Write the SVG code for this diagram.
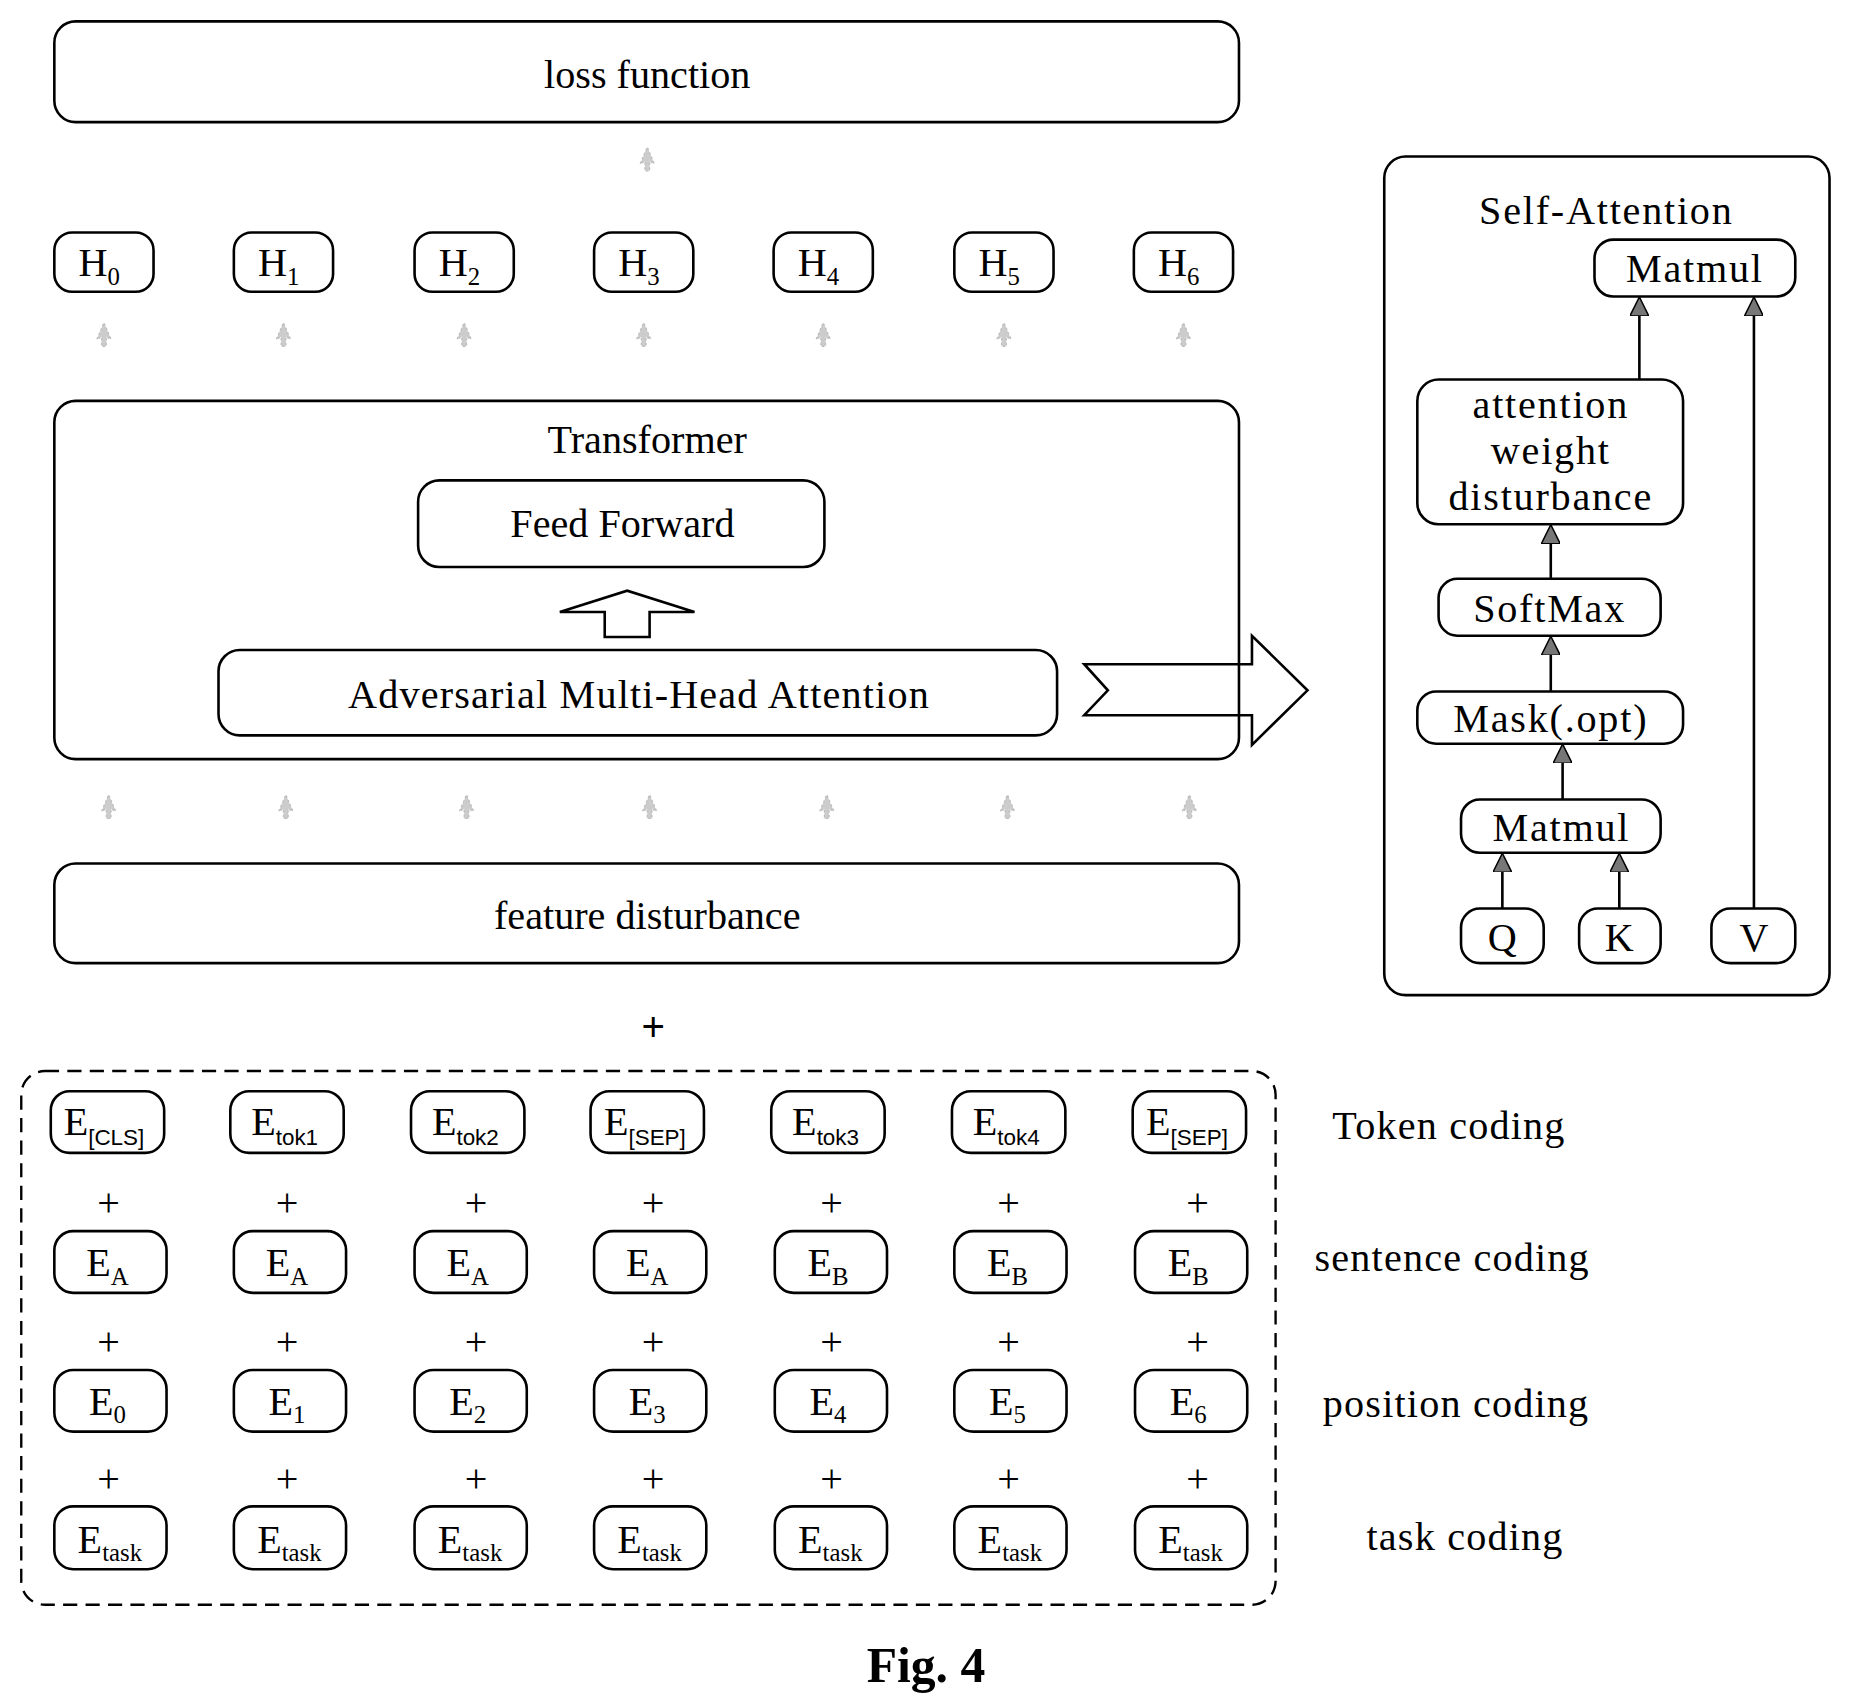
<svg xmlns="http://www.w3.org/2000/svg" width="1852" height="1708" viewBox="0 0 1852 1708">
<defs>
<style>
.b{fill:#fff;stroke:#000;stroke-width:2.2}
.n{fill:none;stroke:#000;stroke-width:2.2}
text{font-family:"Liberation Serif",serif;fill:#000;text-anchor:middle}
.t{font-size:34px}
.w{letter-spacing:1.5px}
.s{font-size:21px}
.ss{font-family:"Liberation Sans",sans-serif;font-size:19px}
.l{font-size:34px;text-anchor:start;letter-spacing:1px}
.p{font-family:"Liberation Sans",sans-serif;font-size:34px}
.d{fill:#ccc;stroke:#bbb;stroke-width:1;stroke-dasharray:2 2}
.c{stroke:#000;stroke-width:2.2;fill:none}
.h{stroke:#000;stroke-width:2.2;fill:#fff}
</style>
<marker id="ah" viewBox="0 0 10 10" refX="9" refY="5" markerWidth="16" markerHeight="16" markerUnits="userSpaceOnUse" orient="auto">
<path d="M0,0 L10,5 L0,10 Z" fill="#777" stroke="#000" stroke-width="0.8"/>
</marker>
<path id="da" d="M-6,8 L0,-6 L6,8 L2,6 L2,14 L-2,14 L-2,6 Z"/>
</defs>
<g transform="scale(1.1811 1.1861)">
<g id="loss"><rect class="b" x="46" y="18" width="1003" height="85" rx="18"/><text class="t" x="548" y="74">loss function</text></g>
<g id="dotted-arrows" class="d">
<use href="#da" x="548" y="130"/>
<use href="#da" x="88" y="278"/><use href="#da" x="240" y="278"/><use href="#da" x="393" y="278"/><use href="#da" x="545" y="278"/><use href="#da" x="697" y="278"/><use href="#da" x="850" y="278"/><use href="#da" x="1002" y="278"/>
<use href="#da" x="92" y="676"/><use href="#da" x="242" y="676"/><use href="#da" x="395" y="676"/><use href="#da" x="550" y="676"/><use href="#da" x="700" y="676"/><use href="#da" x="853" y="676"/><use href="#da" x="1007" y="676"/>
</g>
<g id="H">
<rect class="b" x="46" y="196" width="84" height="50" rx="15"/><text class="t" x="84" y="233">H<tspan class="s" dy="7">0</tspan></text>
<rect class="b" x="198" y="196" width="84" height="50" rx="15"/><text class="t" x="236" y="233">H<tspan class="s" dy="7">1</tspan></text>
<rect class="b" x="351" y="196" width="84" height="50" rx="15"/><text class="t" x="389" y="233">H<tspan class="s" dy="7">2</tspan></text>
<rect class="b" x="503" y="196" width="84" height="50" rx="15"/><text class="t" x="541" y="233">H<tspan class="s" dy="7">3</tspan></text>
<rect class="b" x="655" y="196" width="84" height="50" rx="15"/><text class="t" x="693" y="233">H<tspan class="s" dy="7">4</tspan></text>
<rect class="b" x="808" y="196" width="84" height="50" rx="15"/><text class="t" x="846" y="233">H<tspan class="s" dy="7">5</tspan></text>
<rect class="b" x="960" y="196" width="84" height="50" rx="15"/><text class="t" x="998" y="233">H<tspan class="s" dy="7">6</tspan></text>
</g>
<g id="transformer"><rect class="b" x="46" y="338" width="1003" height="302" rx="18"/><text class="t" x="548" y="382">Transformer</text></g>
<g id="ff"><rect class="b" x="354" y="405" width="344" height="73" rx="18"/><text class="t" x="527" y="453">Feed Forward</text></g>
<g id="amha"><rect class="b" x="185" y="548" width="710" height="72" rx="18"/><text class="t" x="541" y="597" letter-spacing="1">Adversarial Multi-Head Attention</text></g>
<g id="feat"><rect class="b" x="46" y="728" width="1003" height="84" rx="18"/><text class="t" x="548" y="783">feature disturbance</text></g>
<g id="self-attention">
<rect class="n" x="1172" y="132" width="377" height="707" rx="18"/>
<text class="t w" x="1360" y="189">Self-Attention</text>
</g>
<g id="matmul-top"><rect class="b" x="1350" y="202" width="170" height="48" rx="16"/><text class="t w" x="1435" y="238">Matmul</text></g>
<g id="awd"><rect class="b" x="1200" y="320" width="225" height="122" rx="18"/><text class="t w" x="1313" y="352">attention</text><text class="t w" x="1313" y="391">weight</text><text class="t w" x="1313" y="430">disturbance</text></g>
<g id="softmax"><rect class="b" x="1218" y="488" width="188" height="48" rx="16"/><text class="t w" x="1312" y="524">SoftMax</text></g>
<g id="mask"><rect class="b" x="1200" y="583" width="225" height="44" rx="16"/><text class="t w" x="1313" y="617">Mask(.opt)</text></g>
<g id="matmul"><rect class="b" x="1237" y="674" width="169" height="45" rx="16"/><text class="t w" x="1322" y="709">Matmul</text></g>
<g id="q"><rect class="b" x="1237" y="766" width="70" height="46" rx="16"/><text class="t" x="1272" y="802">Q</text></g>
<g id="k"><rect class="b" x="1337" y="766" width="69" height="46" rx="16"/><text class="t" x="1371" y="802">K</text></g>
<g id="v"><rect class="b" x="1449" y="766" width="71" height="46" rx="16"/><text class="t" x="1485" y="802">V</text></g>
<g id="connectors">
<path class="h" d="M512,537 L550,537 L550,516 L588,516 L531,498 L474,516 L512,516 Z"/>
<path class="c" d="M918,560 L1060,560 L1060,536 L1107,582 L1060,628 L1060,603 L918,603 L938,582 Z"/>
<line class="c" x1="1272" y1="766" x2="1272" y2="721" marker-end="url(#ah)"/>
<line class="c" x1="1371" y1="766" x2="1371" y2="721" marker-end="url(#ah)"/>
<line class="c" x1="1323" y1="674" x2="1323" y2="629" marker-end="url(#ah)"/>
<line class="c" x1="1313" y1="583" x2="1313" y2="538" marker-end="url(#ah)"/>
<line class="c" x1="1313" y1="488" x2="1313" y2="444" marker-end="url(#ah)"/>
<line class="c" x1="1388" y1="320" x2="1388" y2="252" marker-end="url(#ah)"/>
<line class="c" x1="1485" y1="766" x2="1485" y2="252" marker-end="url(#ah)"/>
</g>
<text class="p" x="553" y="878">+</text>
<g id="embeddings">
<rect x="18" y="903" width="1062" height="450" rx="20" fill="none" stroke="#000" stroke-width="2" stroke-dasharray="12 7"/>
<g id="token">
<rect class="b" x="43" y="920" width="96" height="52" rx="16"/><text class="t" x="88" y="957">E<tspan class="ss" dy="8">[CLS]</tspan></text>
<rect class="b" x="195" y="920" width="96" height="52" rx="16"/><text class="t" x="241" y="957">E<tspan class="ss" dy="8">tok1</tspan></text>
<rect class="b" x="348" y="920" width="96" height="52" rx="16"/><text class="t" x="394" y="957">E<tspan class="ss" dy="8">tok2</tspan></text>
<rect class="b" x="500" y="920" width="96" height="52" rx="16"/><text class="t" x="546" y="957">E<tspan class="ss" dy="8">[SEP]</tspan></text>
<rect class="b" x="653" y="920" width="96" height="52" rx="16"/><text class="t" x="699" y="957">E<tspan class="ss" dy="8">tok3</tspan></text>
<rect class="b" x="806" y="920" width="96" height="52" rx="16"/><text class="t" x="852" y="957">E<tspan class="ss" dy="8">tok4</tspan></text>
<rect class="b" x="959" y="920" width="96" height="52" rx="16"/><text class="t" x="1005" y="957">E<tspan class="ss" dy="8">[SEP]</tspan></text>
</g>
<g id="plus" class="p">
<text x="92" y="1025">+</text><text x="243" y="1025">+</text><text x="403" y="1025">+</text><text x="553" y="1025">+</text><text x="704" y="1025">+</text><text x="854" y="1025">+</text><text x="1014" y="1025">+</text>
<text x="92" y="1142">+</text><text x="243" y="1142">+</text><text x="403" y="1142">+</text><text x="553" y="1142">+</text><text x="704" y="1142">+</text><text x="854" y="1142">+</text><text x="1014" y="1142">+</text>
<text x="92" y="1258">+</text><text x="243" y="1258">+</text><text x="403" y="1258">+</text><text x="553" y="1258">+</text><text x="704" y="1258">+</text><text x="854" y="1258">+</text><text x="1014" y="1258">+</text>
</g>
<g id="sentence">
<rect class="b" x="46" y="1038" width="95" height="52" rx="16"/><text class="t" x="91" y="1076">E<tspan class="s" dy="7">A</tspan></text>
<rect class="b" x="198" y="1038" width="95" height="52" rx="16"/><text class="t" x="243" y="1076">E<tspan class="s" dy="7">A</tspan></text>
<rect class="b" x="351" y="1038" width="95" height="52" rx="16"/><text class="t" x="396" y="1076">E<tspan class="s" dy="7">A</tspan></text>
<rect class="b" x="503" y="1038" width="95" height="52" rx="16"/><text class="t" x="548" y="1076">E<tspan class="s" dy="7">A</tspan></text>
<rect class="b" x="656" y="1038" width="95" height="52" rx="16"/><text class="t" x="701" y="1076">E<tspan class="s" dy="7">B</tspan></text>
<rect class="b" x="808" y="1038" width="95" height="52" rx="16"/><text class="t" x="853" y="1076">E<tspan class="s" dy="7">B</tspan></text>
<rect class="b" x="961" y="1038" width="95" height="52" rx="16"/><text class="t" x="1006" y="1076">E<tspan class="s" dy="7">B</tspan></text>
</g>
<g id="position">
<rect class="b" x="46" y="1155" width="95" height="52" rx="16"/><text class="t" x="91" y="1193">E<tspan class="s" dy="7">0</tspan></text>
<rect class="b" x="198" y="1155" width="95" height="52" rx="16"/><text class="t" x="243" y="1193">E<tspan class="s" dy="7">1</tspan></text>
<rect class="b" x="351" y="1155" width="95" height="52" rx="16"/><text class="t" x="396" y="1193">E<tspan class="s" dy="7">2</tspan></text>
<rect class="b" x="503" y="1155" width="95" height="52" rx="16"/><text class="t" x="548" y="1193">E<tspan class="s" dy="7">3</tspan></text>
<rect class="b" x="656" y="1155" width="95" height="52" rx="16"/><text class="t" x="701" y="1193">E<tspan class="s" dy="7">4</tspan></text>
<rect class="b" x="808" y="1155" width="95" height="52" rx="16"/><text class="t" x="853" y="1193">E<tspan class="s" dy="7">5</tspan></text>
<rect class="b" x="961" y="1155" width="95" height="52" rx="16"/><text class="t" x="1006" y="1193">E<tspan class="s" dy="7">6</tspan></text>
</g>
<g id="task">
<rect class="b" x="46" y="1270" width="95" height="53" rx="16"/><text class="t" x="93" y="1309">E<tspan class="s" dy="7">task</tspan></text>
<rect class="b" x="198" y="1270" width="95" height="53" rx="16"/><text class="t" x="245" y="1309">E<tspan class="s" dy="7">task</tspan></text>
<rect class="b" x="351" y="1270" width="95" height="53" rx="16"/><text class="t" x="398" y="1309">E<tspan class="s" dy="7">task</tspan></text>
<rect class="b" x="503" y="1270" width="95" height="53" rx="16"/><text class="t" x="550" y="1309">E<tspan class="s" dy="7">task</tspan></text>
<rect class="b" x="656" y="1270" width="95" height="53" rx="16"/><text class="t" x="703" y="1309">E<tspan class="s" dy="7">task</tspan></text>
<rect class="b" x="808" y="1270" width="95" height="53" rx="16"/><text class="t" x="855" y="1309">E<tspan class="s" dy="7">task</tspan></text>
<rect class="b" x="961" y="1270" width="95" height="53" rx="16"/><text class="t" x="1008" y="1309">E<tspan class="s" dy="7">task</tspan></text>
</g>
</g>
<g id="labels">
<text class="l" x="1128" y="960">Token coding</text>
<text class="l" x="1113" y="1072">sentence coding</text>
<text class="l" x="1120" y="1195">position coding</text>
<text class="l" x="1157" y="1307">task coding</text>
</g>
<text x="784" y="1418" style="font-size:42px;font-weight:bold">Fig. 4</text>
</g>
</svg>
